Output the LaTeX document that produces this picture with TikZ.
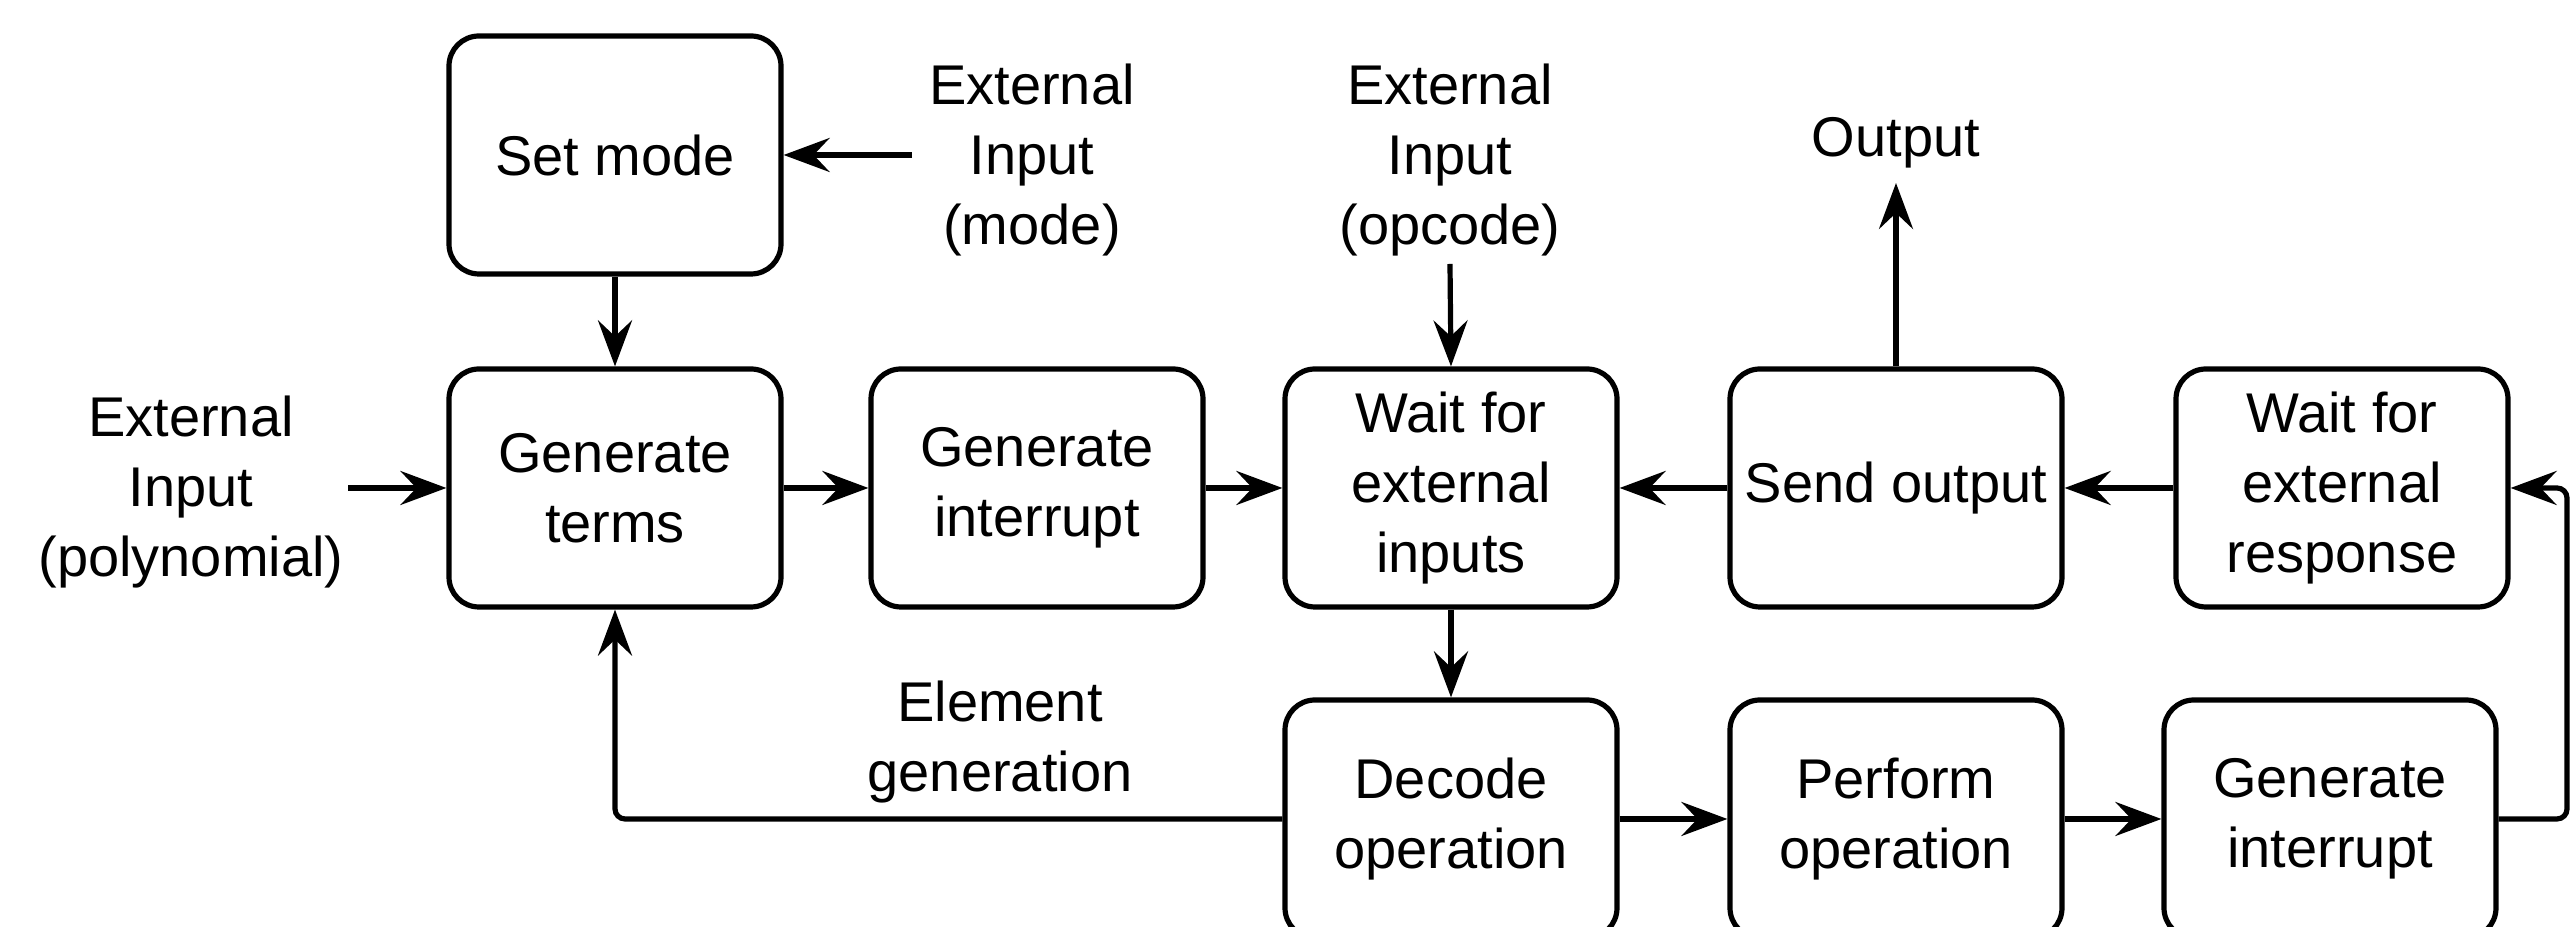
\documentclass[tikz,border=0pt]{standalone}
\usepackage{fontspec}
\setmainfont{Liberation Sans}
\usetikzlibrary{arrows.meta}
\begin{document}
\begin{tikzpicture}[x=0.25pt,y=-0.25pt,
  box/.style={draw=black, line width=1.3pt, rounded corners=7.5pt, fill=white,
    minimum width=83pt, minimum height=59.5pt, inner sep=0pt, align=center,
    font=\fontsize{14}{17.5}\selectfont},
  lbl/.style={align=center, inner sep=0pt, font=\fontsize{14}{17.5}\selectfont},
  conn/.style={line width=1.3pt, -{Stealth[length=11.5pt,width=8.5pt,inset=4pt]}},
]
\useasboundingbox[fill=white] (0,0) rectangle (2574,927);

% boxes
\node[box] (setmode) at (615,155) {Set mode};
\node[box] (genterms) at (615,488) {Generate\\terms};
\node[box] (genint1) at (1037,488) {Generate\\interrupt};
\node[box] (wait) at (1451,488) {Wait for\\external\\inputs};
\node[box] (send) at (1896,488) {Send output};
\node[box] (waitresp) at (2342,488) {Wait for\\external\\response};
\node[box] (decode) at (1451,819) {Decode\\operation};
\node[box] (perform) at (1896,819) {Perform\\operation};
\node[box] (genint2) at (2330,819) {Generate\\interrupt};

% labels
\node[lbl] (extmode) at (1032,160) {External\\Input\\(mode)};
\node[lbl] (extop) at (1450,160) {External\\Input\\(opcode)};
\node[lbl] (output) at (1896,143) {Output};
\node[lbl] (extpoly) at (191,492) {External\\Input\\(polynomial)};
\node[lbl] (elemgen) at (1000,742) {Element\\generation};

% free ends
\coordinate (cmode) at (912,155);
\coordinate (cop) at (1450,264);
\coordinate (cout) at (1896,183);
\coordinate (cpoly) at (348,488);
\coordinate (cloop) at (2567,819);

% connectors
\draw[conn] (cmode) -- (setmode.east);
\draw[conn] (setmode.south) -- (genterms.north);
\draw[conn] (cpoly) -- (genterms.west);
\draw[conn] (genterms.east) -- (genint1.west);
\draw[conn] (genint1.east) -- (wait.west);
\draw[conn] (cop) -- (wait.north);
\draw[conn] (send.west) -- (wait.east);
\draw[conn] (waitresp.west) -- (send.east);
\draw[conn] (send.north) -- (cout);
\draw[conn] (wait.south) -- (decode.north);
\draw[conn] (decode.east) -- (perform.west);
\draw[conn] (perform.east) -- (genint2.west);
\draw[conn, rounded corners=2.5pt] (genint2.east) -- (cloop) |- (waitresp.east);
\draw[conn, rounded corners=2.5pt] (decode.west) -| (genterms.south);
\end{tikzpicture}
\end{document}
